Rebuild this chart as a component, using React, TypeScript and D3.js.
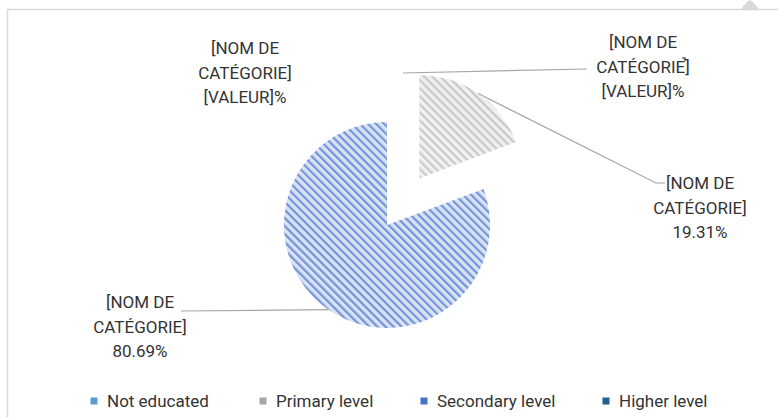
import React from "react";
import * as d3 from "d3";

const categories = ["Not educated", "Primary level", "Secondary level", "Higher level"];
const values = [0, 19.31, 80.69, 0];
const labelValues = ["[VALEUR]%", "19.31%", "80.69%", "[VALEUR]%"];
const legendColors = ["#5B9BD5", "#A5A5A5", "#4472C4", "#255E91"];

const W = 778;
const H = 417;
const cx = 387;
const cy = 225;
const radius = 103;
const explode = 57;

const font = "Roboto, 'Noto Sans', sans-serif";
const textColor = "#333333";

const App: React.FC = () => {
  const pie = d3
    .pie<number>()
    .sort(null)
    .value((d) => d);
  const arcs = pie(values);
  const arc = d3.arc<d3.PieArcDatum<number>>().innerRadius(0).outerRadius(radius);

  const polar = (a: number, r: number): [number, number] => [Math.sin(a) * r, -Math.cos(a) * r];

  // label blocks: x, first baseline, lines
  const labelBlocks = [
    { x: 245, y: 54, lines: ["[NOM DE", "CATÉGORIE]", labelValues[0]] },
    { x: 700, y: 189, lines: ["[NOM DE", "CATÉGORIE]", labelValues[1]] },
    { x: 140, y: 308, lines: ["[NOM DE", "CATÉGORIE]", labelValues[2]] },
    { x: 643, y: 48, lines: ["[NOM DE", "CATÉGORIE]", labelValues[3]] },
  ];

  const legendX = [94, 263, 424, 606];

  // leader start points at slice mid-angle on the outer arc
  const mid = (d: d3.PieArcDatum<number>) => (d.startAngle + d.endAngle) / 2;
  const primary = arcs[1];
  const secondary = arcs[2];
  const [pox, poy] = polar(mid(primary), explode);
  const [p1x, p1y] = polar(mid(primary), radius);
  const [s1x, s1y] = polar(mid(secondary), radius);

  return (
    <svg
      width={W}
      height={H}
      style={{ position: "absolute", left: 0, top: 0, background: "#fff" }}
      fontFamily={font}
    >
      <defs>
        <pattern
          id="hatch-blue"
          patternUnits="userSpaceOnUse"
          width={5.7}
          height={5.7}
          patternTransform="rotate(-45)"
        >
          <rect width={5.7} height={5.7} fill="#DAE3F5" />
          <rect x={0} width={2.2} height={5.7} fill="#7594D8" />
        </pattern>
        <pattern
          id="hatch-gray"
          patternUnits="userSpaceOnUse"
          width={5.7}
          height={5.7}
          patternTransform="rotate(-45)"
        >
          <rect width={5.7} height={5.7} fill="#F1F1F1" />
          <rect x={0} width={2.2} height={5.7} fill="#C8C8C8" />
        </pattern>
      </defs>

      {/* chart frame */}
      <path d={`M7.5,${H} L7.5,9.5 L${W},9.5`} fill="none" stroke="#D9D9D9" strokeWidth={1.5} />
      <path d="M741,9.5 Q745,3 750,0 Q755,3 759,9.5 Z" fill="#D9D9D9" />
      <path d="M682,58 L685,58 L685,61" fill="none" stroke="#222" strokeWidth={1.2} />

      {/* slices */}
      <g transform={`translate(${cx},${cy})`}>
        {arcs.map((d, i) => {
          if (d.value === 0) return null;
          const off = i === 1 ? polar(mid(d), explode) : [0, 0];
          return (
            <path
              key={categories[i]}
              d={arc(d) || ""}
              transform={`translate(${off[0]},${off[1]})`}
              fill={i === 1 ? "url(#hatch-gray)" : "url(#hatch-blue)"}
            />
          );
        })}
      </g>

      {/* leader lines */}
      <g fill="none" stroke="#A6A6A6" strokeWidth={1.2}>
        <polyline points={`403,73 587,69`} />
        <polyline points={`${cx + pox + p1x},${cy + poy + p1y} 656,183 665,183`} />
        <polyline points={`${cx + s1x},${cy + s1y} 181,311`} />
      </g>

      {/* data labels */}
      {labelBlocks.map((b, i) => (
        <text key={i} textAnchor="middle" fontSize={17} fill={textColor}>
          {b.lines.map((l, j) => (
            <tspan key={j} x={b.x} y={b.y + j * 24.5}>
              {l}
            </tspan>
          ))}
        </text>
      ))}

      {/* legend */}
      {categories.map((c, i) => (
        <g key={c}>
          <rect x={legendX[i] - 3.5} y={397.5} width={7} height={7} fill={legendColors[i]} />
          <text x={legendX[i] + 13} y={407} fontSize={17} fill={textColor}>
            {c}
          </text>
        </g>
      ))}
    </svg>
  );
};

export default App;
